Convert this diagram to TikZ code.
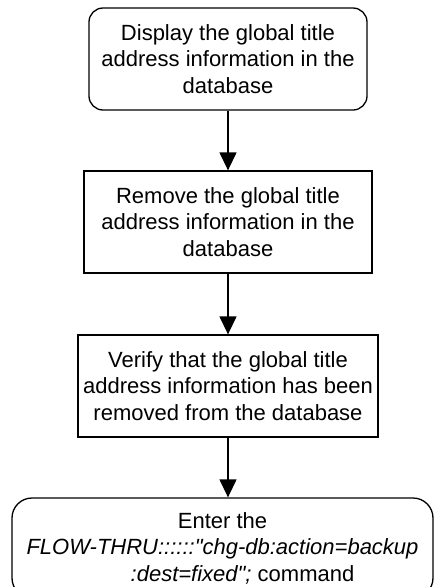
\documentclass[tikz,border=0pt]{standalone}
\usepackage{fontspec}
\setmainfont{Liberation Sans}[Ligatures=TeXOff]
\usetikzlibrary{arrows.meta}
\begin{document}
\begin{tikzpicture}[x=1pt,y=-1pt,
  box/.style={draw, line width=1.3pt, align=center, inner sep=0pt,
    font=\fontsize{22}{26.5}\selectfont},
  rbox/.style={box, rounded corners=14pt},
  ebox/.style={box, rounded corners=20pt},
  arr/.style={line width=1.3pt, -{Triangle[length=18pt,width=17pt]}}]
\useasboundingbox (0,0) rectangle (435,587);
\fill[white] (0,0) rectangle (435,587);
\node[rbox, minimum width=278pt, minimum height=102pt] (b1) at (228,59)
  {Display the global title\\address information in the\\database};
\node[box, minimum width=288pt, minimum height=102pt] (b2) at (228,222)
  {Remove the global title\\address information in the\\database};
\node[box, minimum width=300pt, minimum height=102pt] (b3) at (228,386)
  {Verify that the global title\\address information has been\\removed from the database};
\node[ebox, minimum width=421pt, minimum height=100pt] (b4) at (222.5,548)
  {Enter the\\\textit{FLOW-THRU::::::"chg-db:action=backup}\\\hspace*{40pt}\textit{:dest=fixed";} command};
\draw[arr] (b1) -- (b2);
\draw[arr] (b2) -- (b3);
\draw[arr] (b3) -- (b3 |- b4.north);
\end{tikzpicture}
\end{document}
